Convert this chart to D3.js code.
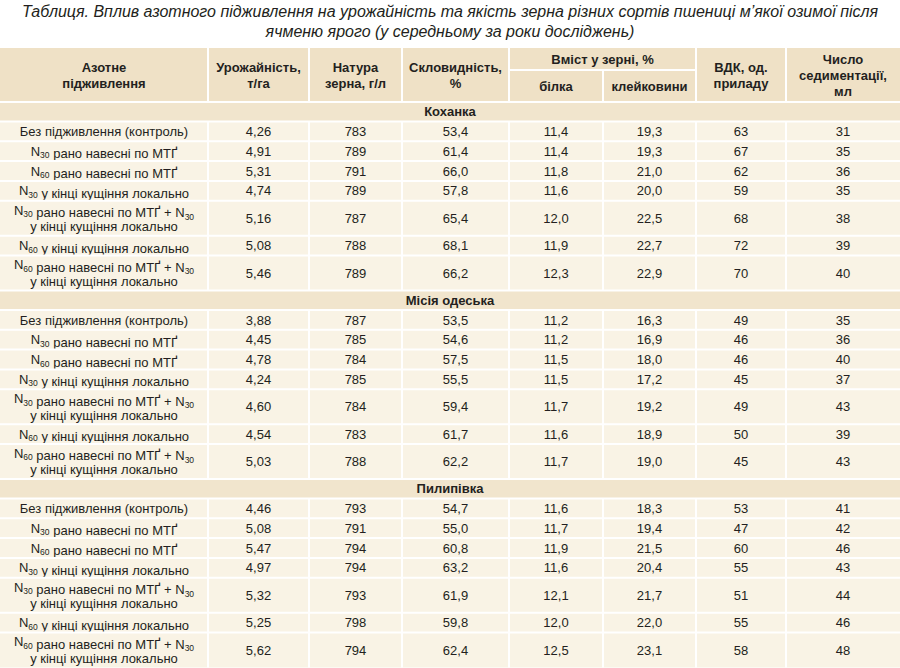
<!DOCTYPE html>
<html><head><meta charset="utf-8">
<script src="https://cdn.jsdelivr.net/npm/d3@7"></script>
<style>
body{margin:0;background:#fff;}
text{font-family:"Liberation Sans",Arial,sans-serif;fill:#231f20;}
</style></head>
<body><svg id="chart" width="900" height="668"></svg>
<script>
const titleLines = ['Таблиця. Вплив азотного підживлення на урожайність та якість зерна різних сортів пшениці м’якої озимої після',
  'ячменю ярого (у середньому за роки досліджень)'];
const varieties = ['Коханка', 'Місія одеська', 'Пилипівка'];
const treatments = [
  'Без підживлення (контроль)',
  'N_30 рано навесні по МТҐ',
  'N_60 рано навесні по МТҐ',
  'N_30 у кінці кущіння локально',
  'N_30 рано навесні по МТҐ + N_30\nу кінці кущіння локально',
  'N_60 у кінці кущіння локально',
  'N_60 рано навесні по МТҐ + N_30\nу кінці кущіння локально'
];
const yieldT = [[4.26,4.91,5.31,4.74,5.16,5.08,5.46],[3.88,4.45,4.78,4.24,4.60,4.54,5.03],[4.46,5.08,5.47,4.97,5.32,5.25,5.62]];
const natura = [[783,789,791,789,787,788,789],[787,785,784,785,784,783,788],[793,791,794,794,793,798,794]];
const vitreous = [[53.4,61.4,66.0,57.8,65.4,68.1,66.2],[53.5,54.6,57.5,55.5,59.4,61.7,62.2],[54.7,55.0,60.8,63.2,61.9,59.8,62.4]];
const protein = [[11.4,11.4,11.8,11.6,12.0,11.9,12.3],[11.2,11.2,11.5,11.5,11.7,11.6,11.7],[11.6,11.7,11.9,11.6,12.1,12.0,12.5]];
const gluten = [[19.3,19.3,21.0,20.0,22.5,22.7,22.9],[16.3,16.9,18.0,17.2,19.2,18.9,19.0],[18.3,19.4,21.5,20.4,21.7,22.0,23.1]];
const vdk = [[63,67,62,59,68,72,70],[49,46,46,45,49,50,45],[53,47,60,55,51,55,58]];
const sediment = [[31,35,36,35,38,39,40],[35,36,40,37,43,39,43],[41,42,46,43,44,46,48]];

const svg = d3.select('#chart');
const colEdges = [0,208,309,402,509,603,696,786,900];
const x = d3.scaleOrdinal(d3.range(8), colEdges);
const fmt1 = v => d3.format('.1f')(v).replace('.', ','),
  fmt2 = v => d3.format('.2f')(v).replace('.', ','),
  fmt0 = v => String(v);

const cBg = '#f9f3e5', cHead = '#efe1c6', cSec = '#f1e5cd', line = '#ffffff';

// Title
svg.selectAll('.title').data(titleLines).enter().append('text')
  .attr('x', 450).attr('y', (d, i) => 17 + i * 20)
  .attr('text-anchor', 'middle').style('font-style', 'italic').style('font-size', '16px')
  .text(d => d);

// Header
const hTop = 48, hMid = 70, hBot = 102;
svg.append('rect').attr('x', 0).attr('y', hTop).attr('width', 900).attr('height', hBot - hTop).attr('fill', cHead);
function vline(xx, y0, y1) {
  svg.append('line').attr('x1', xx).attr('x2', xx).attr('y1', y0).attr('y2', y1).attr('stroke', line).attr('stroke-width', 2);
}
function hline(x0, x1, yy) {
  svg.append('line').attr('x1', x0).attr('x2', x1).attr('y1', yy).attr('y2', yy).attr('stroke', line).attr('stroke-width', 2);
}
[1,2,3,4,6,7].forEach(i => vline(x(i), hTop, hBot));
vline(x(5), hMid, hBot);
hline(x(4), x(6), hMid);
function cellText(lines, cx, cy, bold, size, lh) {
  lh = lh || size + 2.5;
  const t = svg.append('text').attr('text-anchor', 'middle').style('font-size', size + 'px')
    .style('font-weight', bold ? 'bold' : 'normal');
  lines.forEach((ln, i) => {
    const y = cy + (i - (lines.length - 1) / 2) * lh + size * 0.36;
    const parts = ln.split(/(N_\d+)/).filter(s => s);
    parts.forEach((p, j) => {
      const ts = t.append('tspan');
      if (j === 0) ts.attr('x', cx).attr('y', y);
      if (/^N_\d+$/.test(p)) {
        ts.text('N');
        t.append('tspan').attr('dy', 2.5).style('font-size', (size - 4.5) + 'px').text(p.slice(2));
        t.append('tspan').attr('dy', -2.5).text('');
      } else ts.text(p);
    });
  });
}
const headers = [['Азотне','підживлення'],['Урожайність,','т/га'],['Натура','зерна, г/л'],['Скловидність,','%']];
headers.forEach((h, i) => cellText(h, (x(i) + x(i + 1)) / 2, (hTop + hBot) / 2, true, 13, 16));
cellText(['Вміст у зерні, %'], (x(4) + x(6)) / 2, (hTop + hMid) / 2, true, 13);
cellText(['білка'], (x(4) + x(5)) / 2, (hMid + hBot) / 2, true, 13);
cellText(['клейковини'], (x(5) + x(6)) / 2, (hMid + hBot) / 2, true, 13);
cellText(['ВДК, од.','приладу'], (x(6) + x(7)) / 2, (hTop + hBot) / 2, true, 13, 16);
cellText(['Число','седиментації,','мл'], (x(7) + x(8)) / 2, (hTop + hBot) / 2, true, 13, 16);

// Body
const secH = 19.5, singleH = 19.8, doubleH = 35;
let y = hBot;
varieties.forEach((name, v) => {
  svg.append('rect').attr('x', 0).attr('y', y).attr('width', 900).attr('height', secH).attr('fill', cSec);
  hline(0, 900, y);
  cellText([name], 450, y + secH / 2, true, 13);
  y += secH;
  treatments.forEach((tr, r) => {
    const lines = tr.split('\n');
    const h = lines.length > 1 ? doubleH : singleH;
    svg.append('rect').attr('x', 0).attr('y', y).attr('width', 900).attr('height', h).attr('fill', cBg);
    hline(0, 900, y);
    d3.range(1, 8).forEach(i => vline(x(i), y, y + h));
    const vals = [fmt2(yieldT[v][r]), fmt0(natura[v][r]), fmt1(vitreous[v][r]), fmt1(protein[v][r]),
      fmt1(gluten[v][r]), fmt0(vdk[v][r]), fmt0(sediment[v][r])];
    const cy = y + h / 2;
    cellText(lines, (x(0) + x(1)) / 2, cy, false, 13, 16.5);
    vals.forEach((s, i) => cellText([s], (x(i + 1) + x(i + 2)) / 2, cy, false, 13));
    y += h;
  });
});
</script></body></html>
